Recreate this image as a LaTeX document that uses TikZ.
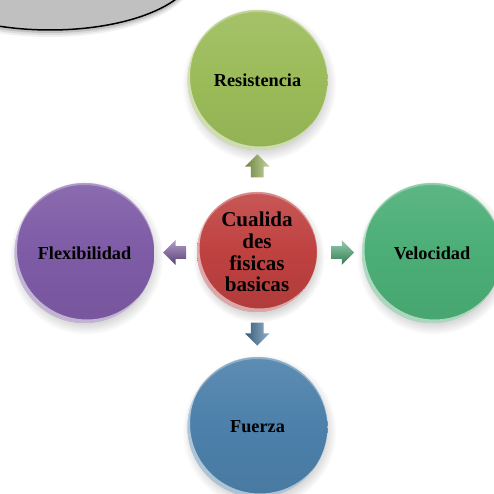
\documentclass[tikz,border=0pt]{standalone}
\usepackage{fontspec}
\setmainfont{Liberation Serif}
\usepackage{tikz}
\usetikzlibrary{shapes.arrows}
\usetikzlibrary{shadows}
\usetikzlibrary{calc}

\definecolor{verdeR}{HTML}{9BBB59}
\definecolor{rojoC}{HTML}{BF4140}
\definecolor{moradoF}{HTML}{7E5BA6}
\definecolor{azulF}{HTML}{4C80AA}
\definecolor{verdeV}{HTML}{4BAE76}
\definecolor{grisN}{HTML}{C0C0C0}

\begin{document}
\begin{tikzpicture}[
  bola/.style={circle, inner sep=0pt, minimum size=2*#1, font=\bfseries\fontsize{10.4}{12}\selectfont,
    circular drop shadow={shadow xshift=0.03cm, shadow yshift=-0.08cm, opacity=0.3},
    path picture={
      \fill[white, opacity=0.55, even odd rule] (path picture bounding box.center) circle[radius=#1]
        ([shift={(0.05,0.07)}]path picture bounding box.center) circle[radius=#1];
      \fill[white, opacity=0.3, even odd rule] (path picture bounding box.center) circle[radius=#1]
        ([shift={(0,-0.04)}]path picture bounding box.center) circle[radius=#1];
    }},
  flecha/.style={single arrow, draw=none, inner sep=0.12cm,
    minimum height=0.46cm, single arrow head extend=0.12cm}
]

\fill[white] (0,0) rectangle (9.88,9.88);
\clip (0,0) rectangle (9.88,9.88);

% Nube
\foreach \d/\o in {0.14/0.06, 0.10/0.08, 0.06/0.12}
  \fill[black, opacity=\o] (1.0,10.48-\d) ellipse (2.88cm and 1.2cm);
\draw [line width=0.85pt, fill=grisN] (1.0,10.48) ellipse (2.88cm and 1.2cm);

% Circulos
\node [bola=1.2cm, top color=rojoC!88!white, bottom color=rojoC!92!black, middle color=rojoC,
  font=\bfseries\fontsize{12}{12.3}\selectfont, align=center] (centro) at (5.14,4.84)
  {Cualida\\des\\fisicas\\basicas};

\node [bola=1.4cm, top color=verdeR!90!white, bottom color=verdeR!95!black, middle color=verdeR] (resist) at (5.15,8.28) {Resistencia};
\node [bola=1.4cm, top color=moradoF!90!white, bottom color=moradoF!95!black, middle color=moradoF] (flexi) at (1.69,4.82) {Flexibilidad};
\node [bola=1.4cm, top color=verdeV!90!white, bottom color=verdeV!95!black, middle color=verdeV] (veloc) at (8.64,4.82) {Velocidad};
\node [bola=1.4cm, top color=azulF!90!white, bottom color=azulF!95!black, middle color=azulF] (fuerza) at (5.15,1.34) {Fuerza};

% Flechas
\node [flecha, shape border rotate=90, left color=verdeR!70!black, right color=verdeR!60!white] (fArriba)
  at ($(centro.north)!0.55!(resist.south)$) {};
\node [flecha, shape border rotate=180, top color=moradoF!60!white, bottom color=moradoF!70!black] (fIzq)
  at ($(centro.west)!0.45!(flexi.east)$) {};
\node [flecha, shape border rotate=0, top color=verdeV!60!white, bottom color=verdeV!70!black] (fDer)
  at ($(centro.east)!0.5!(veloc.west)$) {};
\node [flecha, shape border rotate=270, left color=azulF!70!black, right color=azulF!60!white] (fAbajo)
  at ($(centro.south)!0.42!(fuerza.north)$) {};

\end{tikzpicture}
\end{document}
